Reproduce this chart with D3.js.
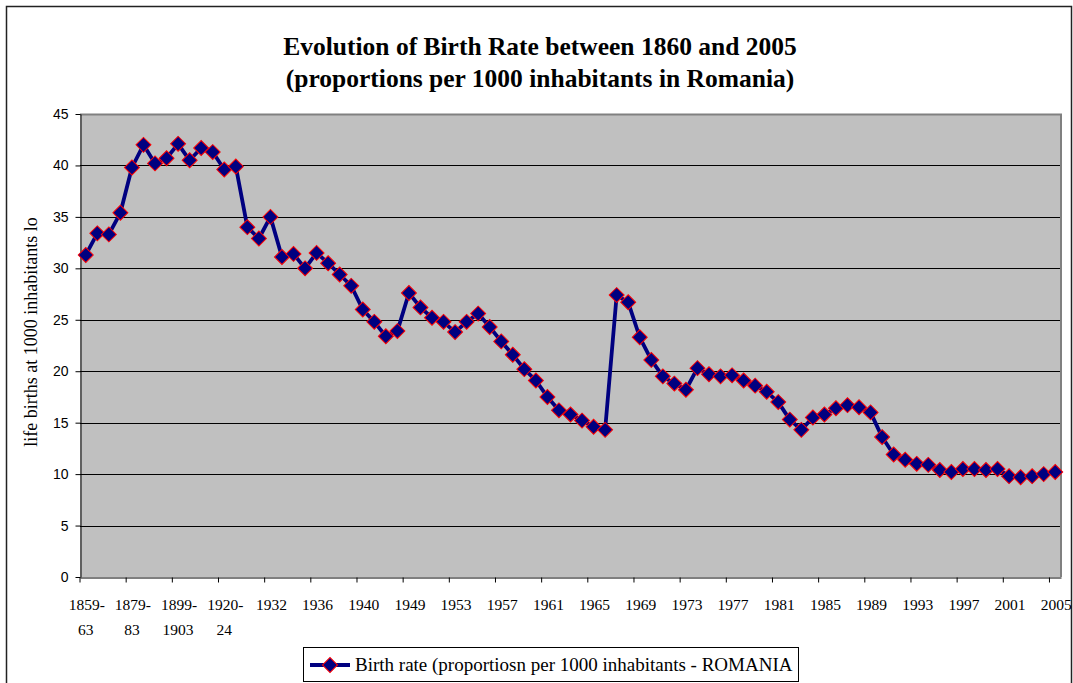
<!DOCTYPE html>
<html>
<head>
<meta charset="utf-8">
<script src="https://cdn.jsdelivr.net/npm/d3@7"></script>
<style>
  body { margin: 0; background: #fff; }
  svg { display: block; }
</style>
</head>
<body>
<div id="chart"></div>
<script>
// periods as shown on the category axis (only every 4th is labelled)
const categories = [
  "1859-63", "1864-68", "1869-73", "1874-78", "1879-83", "1884-88", "1889-93", "1894-98",
  "1899-1903", "1904-08", "1909-13", "1914-19", "1920-24", "1925-29", "1930", "1931",
  "1932", "1933", "1934", "1935", "1936", "1937", "1938", "1939",
  "1940", "1946", "1947", "1948", "1949", "1950", "1951", "1952",
  "1953", "1954", "1955", "1956", "1957", "1958", "1959", "1960",
  "1961", "1962", "1963", "1964", "1965", "1966", "1967", "1968",
  "1969", "1970", "1971", "1972", "1973", "1974", "1975", "1976",
  "1977", "1978", "1979", "1980", "1981", "1982", "1983", "1984",
  "1985", "1986", "1987", "1988", "1989", "1990", "1991", "1992",
  "1993", "1994", "1995", "1996", "1997", "1998", "1999", "2000",
  "2001", "2002", "2003", "2004", "2005"
];

// births per 1000 inhabitants
const birthRate = [
  31.3, 33.4, 33.3, 35.4, 39.8, 42.0, 40.2, 40.7,
  42.1, 40.5, 41.7, 41.3, 39.6, 39.9, 34.0, 32.9,
  35.0, 31.1, 31.4, 30.0, 31.5, 30.5, 29.4, 28.3,
  26.0, 24.8, 23.4, 23.9, 27.6, 26.2, 25.2, 24.8,
  23.8, 24.8, 25.6, 24.3, 22.9, 21.6, 20.2, 19.1,
  17.5, 16.2, 15.8, 15.2, 14.6, 14.3, 27.4, 26.7,
  23.3, 21.1, 19.5, 18.8, 18.2, 20.3, 19.7, 19.5,
  19.6, 19.1, 18.6, 18.0, 17.0, 15.3, 14.3, 15.5,
  15.8, 16.4, 16.7, 16.5, 16.0, 13.6, 11.9, 11.4,
  11.0, 10.9, 10.4, 10.2, 10.5, 10.5, 10.4, 10.5,
  9.8, 9.7, 9.8, 10.0, 10.2
];

const yTicks = [0, 5, 10, 15, 20, 25, 30, 35, 40, 45];
const titleLines = [
  "Evolution of Birth Rate between 1860 and 2005",
  "(proportions per 1000 inhabitants in Romania)"
];
const yLabel = "life births at 1000 inhabitants lo";
const legendLabel = "Birth rate (proportiosn per 1000 inhabitants - ROMANIA";

const serif = "'Liberation Serif', 'Times New Roman', serif";
const sans = "'Liberation Sans', Arial, sans-serif";

const width = 1073, height = 683;
const plot = { left: 80, top: 114, right: 1061, bottom: 577 };

const svg = d3.select("#chart").append("svg")
  .attr("width", width)
  .attr("height", height);

// outer chart border
svg.append("rect")
  .attr("x", 6.5).attr("y", 6.5)
  .attr("width", 1065).attr("height", 700)
  .attr("fill", "#fff")
  .attr("stroke", "#222")
  .attr("stroke-width", 1.5);

const x = d3.scaleBand()
  .domain(categories)
  .range([plot.left, plot.right])
  .padding(0);

const y = d3.scaleLinear()
  .domain([0, 45])
  .range([plot.bottom, plot.top]);

// plot area
svg.append("rect")
  .attr("x", plot.left).attr("y", plot.top)
  .attr("width", plot.right - plot.left)
  .attr("height", plot.bottom - plot.top)
  .attr("fill", "#c0c0c0");

// gridlines
svg.append("g")
  .selectAll("line")
  .data(yTicks.filter(d => d > 0 && d < 45))
  .enter().append("line")
  .attr("x1", plot.left).attr("x2", plot.right)
  .attr("y1", d => Math.round(y(d)) + 0.5)
  .attr("y2", d => Math.round(y(d)) + 0.5)
  .attr("stroke", "#000")
  .attr("stroke-width", 1);

// grey frame top + right
svg.append("path")
  .attr("d", `M${plot.left},${plot.top + 0.5}H${plot.right}V${plot.bottom}`)
  .attr("fill", "none")
  .attr("stroke", "#808080")
  .attr("stroke-width", 2);

// y axis
const yAxis = svg.append("g")
  .attr("transform", `translate(${plot.left + 0.5},0)`)
  .call(d3.axisLeft(y).tickValues(yTicks).tickSize(5).tickSizeOuter(0));
yAxis.select(".domain").attr("stroke", "#000");
yAxis.selectAll(".tick line").attr("stroke", "#000");
yAxis.selectAll(".tick text")
  .attr("x", -12)
  .attr("font-family", sans)
  .attr("font-size", 14)
  .attr("fill", "#000");

// x axis: labels on every 4th category, ticks at band boundaries
const labelled = categories.filter((d, i) => i % 4 === 0);
const xAxis = svg.append("g")
  .attr("transform", `translate(0,${plot.bottom + 0.5})`)
  .call(d3.axisBottom(x).tickValues(labelled).tickSize(5).tickSizeOuter(0));
xAxis.select(".domain").attr("stroke", "#000");
xAxis.selectAll(".tick line")
  .attr("stroke", "#000")
  .attr("x1", -x.bandwidth() / 2)
  .attr("x2", -x.bandwidth() / 2);
xAxis.selectAll(".tick text").remove();
xAxis.selectAll(".tick").each(function (d) {
  const cut = d.indexOf("-");
  const parts = cut > 0 ? [d.slice(0, cut + 1), d.slice(cut + 1)] : [d];
  const t = d3.select(this).append("text")
    .attr("font-family", serif)
    .attr("font-size", 15.5)
    .attr("fill", "#000")
    .attr("text-anchor", "middle");
  parts.forEach((p, k) => {
    t.append("tspan")
      .attr("x", k === 0 ? 1 : 0)
      .attr("y", 32 + k * 25)
      .text(p);
  });
});

// series line
const line = d3.line()
  .x((d, i) => x(categories[i]) + x.bandwidth() / 2)
  .y(d => y(d));

svg.append("path")
  .datum(birthRate)
  .attr("d", line)
  .attr("fill", "none")
  .attr("stroke", "#000080")
  .attr("stroke-width", 3.8)
  .attr("stroke-linejoin", "round");

const diamond = d3.symbol().type(d3.symbolSquare).size(112);

svg.append("g")
  .selectAll("path")
  .data(birthRate)
  .enter().append("path")
  .attr("d", diamond)
  .attr("transform", (d, i) =>
    `translate(${x(categories[i]) + x.bandwidth() / 2},${y(d)}) rotate(45)`)
  .attr("fill", "#000080")
  .attr("stroke", "#ff0000")
  .attr("stroke-width", 1);

// title
svg.append("g")
  .selectAll("text")
  .data(titleLines)
  .enter().append("text")
  .attr("x", 540)
  .attr("y", (d, i) => 55 + i * 32)
  .attr("text-anchor", "middle")
  .attr("font-family", serif)
  .attr("font-weight", "bold")
  .attr("font-size", 25.5)
  .attr("fill", "#000")
  .text(d => d);

// y axis title
svg.append("text")
  .attr("transform", "translate(36.5,332) rotate(-90)")
  .attr("text-anchor", "middle")
  .attr("font-family", serif)
  .attr("font-size", 18)
  .attr("fill", "#000")
  .text(yLabel);

// legend
const legend = svg.append("g");
legend.append("rect")
  .attr("x", 303.5).attr("y", 647.5)
  .attr("width", 495).attr("height", 34)
  .attr("fill", "#fff")
  .attr("stroke", "#000")
  .attr("stroke-width", 1);
legend.append("line")
  .attr("x1", 310).attr("x2", 350)
  .attr("y1", 665).attr("y2", 665)
  .attr("stroke", "#000080")
  .attr("stroke-width", 3.8);
legend.append("path")
  .attr("d", diamond)
  .attr("transform", "translate(330,665) rotate(45)")
  .attr("fill", "#000080")
  .attr("stroke", "#ff0000")
  .attr("stroke-width", 1);
legend.append("text")
  .attr("x", 355)
  .attr("y", 671)
  .attr("font-family", serif)
  .attr("font-size", 19)
  .attr("fill", "#000")
  .text(legendLabel);
</script>
</body>
</html>
